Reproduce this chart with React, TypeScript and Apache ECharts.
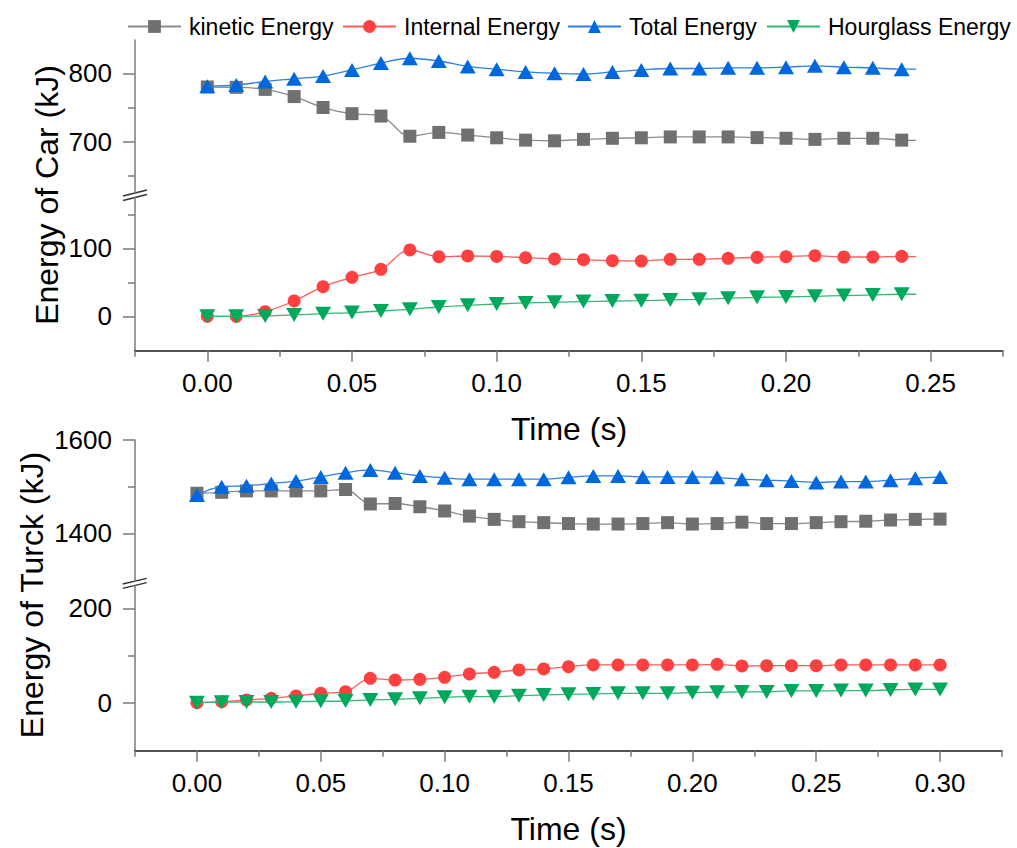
import React, { useEffect, useRef } from "react";
import * as echarts from "echarts";

const FONT = "'Liberation Sans', Arial, Helvetica, sans-serif";

// ---------- Data: top panel (Car) ----------
const TOP_TIME = [0, 0.01, 0.02, 0.03, 0.04, 0.05, 0.06, 0.07, 0.08, 0.09, 0.1, 0.11, 0.12, 0.13, 0.14, 0.15, 0.16, 0.17, 0.18, 0.19, 0.2, 0.21, 0.22, 0.23, 0.24, 0.245];
const TOP_KINETIC = [780, 779.5, 776.5, 766, 750, 741, 737.5, 708, 713.6, 709.7, 705.7, 702.3, 701.3, 703.4, 705, 705.7, 707, 707, 707, 706, 705, 703.4, 705, 705, 702.3, 702];
const TOP_INTERNAL = [0, 0, 6.8, 22.5, 43.5, 57.3, 69, 97.5, 87.7, 88.7, 88, 86.2, 84.3, 83.3, 81.8, 81.3, 83.8, 83.8, 85.3, 86.8, 87.7, 89.1, 87.2, 87.2, 88.2, 87.7];
const TOP_TOTAL = [781, 783, 788, 792, 796, 805, 815, 822, 818, 810, 806, 802, 800, 799, 802, 805, 807, 807, 808, 808, 809, 811, 809, 808, 806, 806];
const TOP_HOURGLASS = [0, 0, 0.5, 2, 3.9, 5.4, 7.8, 10.3, 13.7, 16.2, 18.1, 19.6, 20.6, 21.6, 22.5, 23, 24, 25, 26.5, 27.9, 28.4, 29.4, 30.4, 31.4, 32.4, 32.4];

// ---------- Data: bottom panel (Turck) ----------
const BOT_TIME = [0, 0.01, 0.02, 0.03, 0.04, 0.05, 0.06, 0.07, 0.08, 0.09, 0.1, 0.11, 0.12, 0.13, 0.14, 0.15, 0.16, 0.17, 0.18, 0.19, 0.2, 0.21, 0.22, 0.23, 0.24, 0.25, 0.26, 0.27, 0.28, 0.29, 0.3];
const BOT_KINETIC = [1486, 1488, 1491, 1491, 1491, 1491, 1494, 1463, 1464, 1457, 1448, 1437, 1430, 1425, 1423, 1421, 1420, 1420, 1421, 1423, 1420, 1421, 1424, 1421, 1421, 1423, 1425, 1426, 1428.6, 1430, 1430.6];
const BOT_INTERNAL = [0, 2, 5.7, 9.2, 14.2, 19.9, 23.3, 51.7, 48, 49.5, 53.8, 60.8, 64.4, 69.3, 71.4, 76.3, 80, 80, 80, 80, 80, 81.4, 77.8, 78.5, 78.5, 78.5, 80, 80, 80, 80, 80];
const BOT_TOTAL = [1482, 1500, 1502, 1507, 1512, 1521, 1530, 1536, 1530, 1523, 1519, 1516, 1516, 1516, 1516, 1520, 1523, 1523, 1521, 1521, 1521, 1520, 1516, 1514, 1512, 1509, 1511, 1511, 1514, 1518, 1521];
const BOT_HOURGLASS = [0, 0.7, 1.4, 1.4, 2, 2.8, 3.5, 5.7, 7, 9.2, 11.3, 12.7, 12.7, 14.8, 16.3, 17.7, 18.4, 19.8, 19.8, 19.8, 21.2, 22, 22.7, 22.7, 24.8, 24.8, 25.5, 25.5, 27, 28, 28];

// ---------- Tick values ----------
const TOP_X_MAJOR = [0, 0.05, 0.1, 0.15, 0.2, 0.25];
const TOP_X_MINOR = [-0.025, 0.025, 0.075, 0.125, 0.175, 0.225, 0.275];
const BOT_X_MAJOR = [0, 0.05, 0.1, 0.15, 0.2, 0.25, 0.3];
const BOT_X_MINOR = [-0.025, 0.025, 0.075, 0.125, 0.175, 0.225, 0.275, 0.325];
const TOP_UP_Y_MAJOR = [700, 800];
const TOP_UP_Y_MINOR = [650, 750];
const TOP_LO_Y_MAJOR = [0, 100];
const TOP_LO_Y_MINOR = [50, 150];
const BOT_UP_Y_MAJOR = [1400, 1600];
const BOT_UP_Y_MINOR = [1500];
const BOT_LO_Y_MAJOR = [0, 200];
const BOT_LO_Y_MINOR = [100];

const NAMES = ["kinetic Energy", "Internal Energy", "Total Energy", "Hourglass Energy"];
const MARKER = ["#707070", "#FF4040", "#0068DE", "#00A85C"];
const LINE = ["#8c8c8c", "#ff5c5c", "#2e80e4", "#35b878"];

const TICK_COLOR = "#7a7a7a";

function yMajor(grid: number, min: number, max: number, ticks: number[]) {
  return {
    type: "value", gridIndex: grid, min, max, position: "left",
    axisLine: { show: true, onZero: false, lineStyle: { color: TICK_COLOR, width: 1.5 } },
    axisTick: { show: true, inside: false, length: 12, customValues: ticks, lineStyle: { color: TICK_COLOR, width: 1.5 } },
    axisLabel: { show: true, customValues: ticks, formatter: (v: number) => String(v), margin: 23, fontSize: 26, fontFamily: FONT, color: "#000" },
    splitLine: { show: false },
  };
}
function yMinor(grid: number, min: number, max: number, ticks: number[]) {
  return {
    type: "value", gridIndex: grid, min, max, position: "left",
    axisLine: { show: false, onZero: false },
    axisTick: { show: true, inside: false, length: 7, customValues: ticks, lineStyle: { color: TICK_COLOR, width: 1.5 } },
    axisLabel: { show: false },
    splitLine: { show: false },
  };
}
function xHidden(grid: number, min: number, max: number) {
  return { type: "value", gridIndex: grid, min, max, show: false, axisLine: { onZero: false }, splitLine: { show: false } };
}
function xMajor(grid: number, min: number, max: number, ticks: number[]) {
  return {
    type: "value", gridIndex: grid, min, max, position: "bottom",
    axisLine: { show: true, onZero: false, lineStyle: { color: "#1a1a1a", width: 1.5 } },
    axisTick: { show: true, inside: false, length: 11, customValues: ticks, lineStyle: { color: TICK_COLOR, width: 1.5 } },
    axisLabel: { show: true, customValues: ticks, formatter: (v: number) => v.toFixed(2), margin: 19, fontSize: 26, fontFamily: FONT, color: "#000" },
    name: "Time (s)", nameLocation: "middle", nameGap: 62,
    nameTextStyle: { fontSize: 32, fontFamily: FONT, color: "#000" },
    splitLine: { show: false },
  };
}
function xMinor(grid: number, min: number, max: number, ticks: number[]) {
  return {
    type: "value", gridIndex: grid, min, max, position: "bottom",
    axisLine: { show: false, onZero: false },
    axisTick: { show: true, inside: false, length: 6, customValues: ticks, lineStyle: { color: TICK_COLOR, width: 1.5 } },
    axisLabel: { show: false },
    splitLine: { show: false },
  };
}

function pts(time: number[], vals: number[], hideLast: boolean) {
  return time.map((t, i) => {
    if (hideLast && i === time.length - 1) return { value: [t, vals[i]], symbol: "none" };
    return [t, vals[i]];
  });
}

function series(idx: number, xi: number, yi: number, time: number[], vals: number[], hideLast: boolean) {
  const sym = idx === 0 ? "rect" : idx === 1 ? "circle" : "triangle";
  const size: any = idx === 0 ? 13 : idx === 1 ? 13 : [16, 14];
  return {
    type: "line", name: NAMES[idx], xAxisIndex: xi, yAxisIndex: yi,
    data: pts(time, vals, hideLast),
    smooth: 0.35,
    symbol: sym, symbolSize: size, symbolRotate: idx === 3 ? 180 : 0,
    showSymbol: true,
    itemStyle: { color: MARKER[idx] },
    lineStyle: { color: LINE[idx], width: 1.3 },
    emphasis: { disabled: true },
    z: 2 + idx,
  };
}

const LEGEND_LEFT = [127, 342, 567, 766];

function buildOption() {
  return {
    animation: false,
    backgroundColor: "#fff",
    grid: [
      { left: 135, width: 868, top: 40, height: 153, outerBoundsMode: "none" },
      { left: 135, width: 868, top: 197.5, height: 153.2, outerBoundsMode: "none" },
      { left: 135, width: 867, top: 440, height: 141, outerBoundsMode: "none" },
      { left: 135, width: 867, top: 585.5, height: 165.2, outerBoundsMode: "none" },
    ],
    xAxis: [
      xHidden(0, -0.025, 0.275),
      xMajor(1, -0.025, 0.275, TOP_X_MAJOR),
      xMinor(1, -0.025, 0.275, TOP_X_MINOR),
      xHidden(2, -0.025, 0.325),
      xMajor(3, -0.025, 0.325, BOT_X_MAJOR),
      xMinor(3, -0.025, 0.325, BOT_X_MINOR),
    ],
    yAxis: [
      yMajor(0, 625, 848.7, TOP_UP_Y_MAJOR),
      yMinor(0, 625, 848.7, TOP_UP_Y_MINOR),
      yMajor(1, -50.6, 174.7, TOP_LO_Y_MAJOR),
      yMinor(1, -50.6, 174.7, TOP_LO_Y_MINOR),
      yMajor(2, 1298, 1600, BOT_UP_Y_MAJOR),
      yMinor(2, 1298, 1600, BOT_UP_Y_MINOR),
      yMajor(3, -102, 248.6, BOT_LO_Y_MAJOR),
      yMinor(3, -102, 248.6, BOT_LO_Y_MINOR),
    ],
    legend: NAMES.map((n, i) => ({
      data: [n], left: LEGEND_LEFT[i], top: 15, padding: 0,
      itemWidth: 53, itemHeight: 16, itemGap: 0,
      textStyle: { fontSize: 23, fontFamily: FONT, color: "#000", padding: [0, 0, 0, 3] },
    })),
    series: [
      series(0, 0, 0, TOP_TIME, TOP_KINETIC, true),
      series(1, 1, 2, TOP_TIME, TOP_INTERNAL, true),
      series(2, 0, 0, TOP_TIME, TOP_TOTAL, true),
      series(3, 1, 2, TOP_TIME, TOP_HOURGLASS, true),
      series(0, 3, 4, BOT_TIME, BOT_KINETIC, false),
      series(1, 4, 6, BOT_TIME, BOT_INTERNAL, false),
      series(2, 3, 4, BOT_TIME, BOT_TOTAL, false),
      series(3, 4, 6, BOT_TIME, BOT_HOURGLASS, false),
    ],
    graphic: [
      { type: "text", x: 47, y: 195, rotation: Math.PI / 2, style: { text: "Energy of Car (kJ)", fontSize: 32, fontFamily: FONT, fill: "#000", align: "center", verticalAlign: "middle" } },
      { type: "text", x: 32, y: 595, rotation: Math.PI / 2, style: { text: "Energy of Turck (kJ)", fontSize: 32, fontFamily: FONT, fill: "#000", align: "center", verticalAlign: "middle" } },
      { type: "line", shape: { x1: 123, y1: 196, x2: 147, y2: 190 }, style: { stroke: "#333", lineWidth: 1.3 } },
      { type: "line", shape: { x1: 123, y1: 200.5, x2: 147, y2: 194.5 }, style: { stroke: "#333", lineWidth: 1.3 } },
      { type: "line", shape: { x1: 122.7, y1: 584, x2: 146.7, y2: 578.3 }, style: { stroke: "#333", lineWidth: 1.3 } },
      { type: "line", shape: { x1: 122.7, y1: 588.3, x2: 146.7, y2: 582.7 }, style: { stroke: "#333", lineWidth: 1.3 } },
    ],
  };
}

export default function App() {
  const ref = useRef<HTMLDivElement>(null);
  useEffect(() => {
    if (!ref.current) return;
    const chart = echarts.init(ref.current, null, { renderer: "svg" });
    chart.setOption(buildOption() as any);
    return () => chart.dispose();
  }, []);
  return (
    <div
      ref={ref}
      style={{ position: "absolute", left: 0, top: 0, width: 1017, height: 848, background: "#fff" }}
    />
  );
}
